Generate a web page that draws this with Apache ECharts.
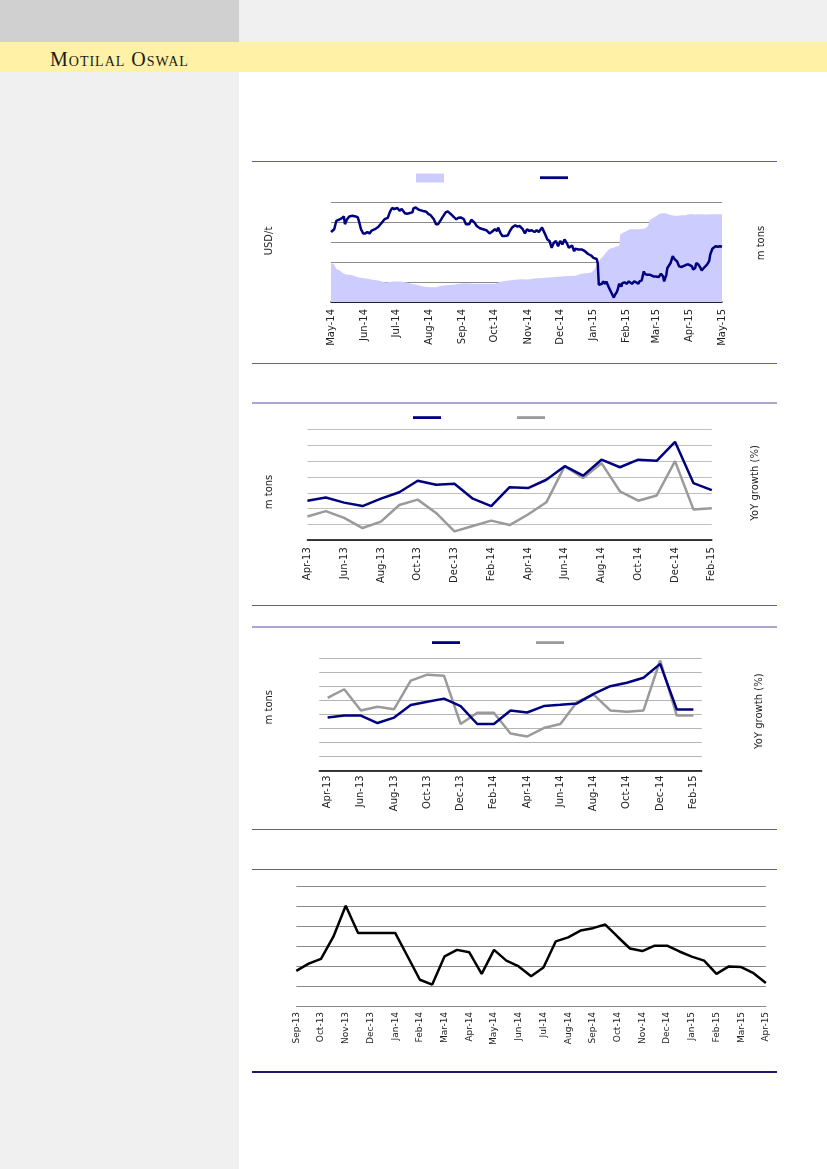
<!DOCTYPE html>
<html><head><meta charset="utf-8">
<script src="https://cdn.jsdelivr.net/npm/echarts@6.0.0/dist/echarts.min.js"></script>
<style>
html,body{margin:0;padding:0;background:#fff;}
#page{position:relative;width:827px;height:1169px;background:#fff;overflow:hidden;}
.blk{position:absolute;}
.rule{position:absolute;left:252px;width:525px;height:1px;}
</style></head><body>
<div id="page">
<div class="blk" style="left:0;top:0;width:239px;height:42px;background:#d0d0d0"></div>
<div class="blk" style="left:239px;top:0;width:588px;height:42px;background:#f0f0f0"></div>
<div class="blk" style="left:0;top:42px;width:827px;height:30px;background:#fff1a6"></div>
<div class="blk" style="left:0;top:72px;width:239px;height:1097px;background:#f0f0f0"></div>
<div class="blk" style="left:50px;top:49px;font-family:'Liberation Serif','DejaVu Serif',serif;font-variant:small-caps;font-size:20px;line-height:20px;letter-spacing:1px;color:#1a1a1a;white-space:nowrap">Motilal Oswal</div>
<div class="rule" style="top:161px;background:#6457ad"></div>
<div class="rule" style="top:363px;background:#6457ad"></div>
<div class="rule" style="top:402px;height:2px;background:#aaa3d6"></div>
<div class="rule" style="top:605px;background:#6457ad"></div>
<div class="rule" style="top:626px;height:2px;background:#aaa3d6"></div>
<div class="rule" style="top:829px;background:#6457ad"></div>
<div class="rule" style="top:869px;background:#6457ad"></div>
<div class="rule" style="top:1071px;height:2px;background:#1f1a70"></div>
<div id="chart" style="position:absolute;left:0;top:0;width:827px;height:1169px"></div>
</div>
<script>
// ---------- Chart 1: daily price (USD/t) vs stocks (m tons), May-14 to May-15 ----------
const c1Months = ['May-14','Jun-14','Jul-14','Aug-14','Sep-14','Oct-14','Nov-14','Dec-14','Jan-15','Feb-15','Mar-15','Apr-15','May-15'];
// days since 1-May-14
const c1PriceDay = [0,3,5,7,8,10,12,13,15,17,20,23,25,26,28,30,32,34,36,38,41,44,47,50,53,55,57,59,62,64,66,69,71,73,76,77,79,82,84,86,89,91,93,96,98,100,102,104,107,109,112,115,117,119,121,
124,126,129,131,134,136,139,142,145,148,150,153,155,156,158,160,162,165,167,169,172,174,176,179,181,183,185,187,190,192,194,197,198,200,202,204,206,208,210,212,214,216,218,220,222,225,227,228,231,234,237,238,240,
241,243,245,246,248,249,250,251,253,254,256,257,259,260,262,264,265,267,268,269,271,272,274,276,278,279,281,283,285,287,288,290,292,293,295,296,298,301,303,306,308,310,311,313,314,317,319,321,323,325,327,330,332,334,337,338,340,341,343,345,346,348,349,351,353,354,356,359,361,363,365];
const c1Price = [350,364,406,411,421,418,428,389,414,428,431,428,423,406,364,343,343,350,342,357,364,375,394,414,421,451,470,465,470,456,465,444,441,444,448,468,473,461,458,455,451,439,434,414,389,389,406,423,448,453,439,423,414,421,423,
414,389,389,411,397,380,369,364,359,343,350,364,355,372,347,330,330,333,355,372,384,377,380,364,343,364,355,359,350,359,350,372,367,338,313,305,271,296,305,279,305,288,313,296,271,283,254,266,263,263,254,250,240,
232,232,221,212,215,195,86,86,91,103,91,103,77,69,44,22,35,52,69,91,77,94,98,91,103,103,91,103,98,91,103,108,153,141,136,145,136,128,128,125,141,128,103,136,170,195,229,212,204,178,175,182,187,187,178,162,170,195,187,170,158,170,178,187,204,237,266,279,276,279,276];
const c1StockDay = [0,3,5,8,11,14,19,20,26,33,39,45,51,58,64,70,75,79,86,92,98,103,107,114,120,125,134,144,153,159,166,172,178,184,190,197,203,209,215,222,228,234,240,243,246,249,251,254,257,260,264,267,269,270,273,276,279,284,288,293,296,298,299,303,306,309,312,315,318,321,324,327,331,334,337,340,343,349,355,365];
const c1Stock = [3.9,3.74,3.3,3.16,2.9,2.76,2.7,2.56,2.46,2.36,2.22,2.12,1.96,2.06,2.06,1.98,1.82,1.76,1.54,1.48,1.48,1.62,1.68,1.72,1.82,1.88,1.82,1.82,1.82,2.06,2.16,2.22,2.28,2.26,2.36,2.4,2.46,2.5,2.56,2.6,2.62,2.82,2.9,2.96,3.24,3.9,4.24,4.58,4.98,5.32,5.42,5.58,5.58,6.76,6.94,7.1,7.28,7.28,7.28,7.34,7.6,8.22,8.36,8.56,8.78,8.88,8.88,8.78,8.68,8.62,8.62,8.68,8.68,8.78,8.78,8.76,8.78,8.76,8.78,8.78];

// ---------- Chart 2 ----------
const c2Cats = ['Apr-13','May-13','Jun-13','Jul-13','Aug-13','Sep-13','Oct-13','Nov-13','Dec-13','Jan-14','Feb-14','Mar-14','Apr-14','May-14','Jun-14','Jul-14','Aug-14','Sep-14','Oct-14','Nov-14','Dec-14','Jan-15','Feb-15'];
const c2Vol = [25.0,27.0,23.8,21.6,26.3,30.4,37.7,35.1,35.8,26.3,21.6,33.6,33.0,38.3,46.9,40.9,51.0,46.2,51.0,50.3,62.3,36.2,31.7];
const c2Yoy = [-5.0,-1.6,-5.9,-12.3,-8.2,2.3,5.7,-2.7,-14.4,-11.0,-7.6,-10.4,-3.7,4.0,26.9,19.4,28.8,11.0,5.0,8.3,30.1,-0.5,0.3];

// ---------- Chart 3 ----------
const c3Cats = ['Apr-13','May-13','Jun-13','Jul-13','Aug-13','Sep-13','Oct-13','Nov-13','Dec-13','Jan-14','Feb-14','Mar-14','Apr-14','May-14','Jun-14','Jul-14','Aug-14','Sep-14','Oct-14','Nov-14','Dec-14','Jan-15','Feb-15'];
const c3Vol = [37.6,39.0,39.0,33.7,37.6,46.5,48.9,51.1,45.8,33.0,33.0,42.7,41.2,45.8,46.7,47.7,54.5,60.0,62.4,66.0,75.9,43.4,43.4];
const c3Yoy = [31.6,37.8,22.7,25.3,23.6,43.9,48.2,47.5,13.0,21.0,21.0,6.3,4.1,10.1,13.0,28.7,34.0,22.7,21.7,22.7,58.3,19.0,19.0];

// ---------- Chart 4: fortnightly ----------
const c4Cats = ['01-Sep-13','15-Sep-13','01-Oct-13','15-Oct-13','01-Nov-13','15-Nov-13','01-Dec-13','15-Dec-13','01-Jan-14','15-Jan-14','01-Feb-14','15-Feb-14','01-Mar-14','15-Mar-14','01-Apr-14','15-Apr-14','01-May-14','15-May-14','01-Jun-14','15-Jun-14','01-Jul-14','15-Jul-14','01-Aug-14','15-Aug-14','01-Sep-14','15-Sep-14','01-Oct-14','15-Oct-14','01-Nov-14','15-Nov-14','01-Dec-14','15-Dec-14','01-Jan-15','15-Jan-15','01-Feb-15','15-Feb-15','01-Mar-15','15-Mar-15','01-Apr-15'];
const c4Vals = [17.6,21.2,23.6,34.7,50.2,36.6,36.6,36.6,36.6,24.9,13.1,10.7,24.9,28.1,26.9,16.1,28.1,22.7,19.8,14.9,19.3,32.4,34.4,37.8,39.0,40.8,34.7,28.8,27.5,30.2,30.2,27.3,24.7,22.7,16.1,19.8,19.5,16.4,11.5];

// ---------- build ----------
const FONT = 'DejaVu Sans';
const MON = {Jan:0,Feb:1,Mar:2,Apr:3,May:4,Jun:5,Jul:6,Aug:7,Sep:8,Oct:9,Nov:10,Dec:11};
const base = Date.UTC(2014,4,1);
const c1Offsets = c1Months.map(s => (Date.UTC(2000 + +s.slice(4), MON[s.slice(0,3)], 1) - base) / 864e5);
const c1LabelOf = {}; c1Offsets.forEach((o,i) => c1LabelOf[o] = c1Months[i]);
const zip = (a,b) => a.map((v,i) => [v, b[i]]);

function nameStyle(up, size) {
  const p = up >= 0 ? [0,0,0,2*up] : [0,-2*up,0,0];
  return {fontFamily: FONT, fontSize: size || 10, color: '#222', padding: p};
}
const xl = (size, margin) => ({rotate: 90, interval: 1, fontFamily: FONT, fontSize: size, color: '#222', margin: margin});
const hidden = {show: false};
function lg(name, left, top, h) {
  return {left: left, top: top, padding: 0, itemWidth: 28, itemHeight: h, formatter: () => '',
          selectedMode: false, data: [{name: name, icon: 'rect'}]};
}

const chart = echarts.init(document.getElementById('chart'), null, {renderer: 'canvas'});
const navy = '#000080', gray = '#9a9a9a';

const option = {
  animation: false,
  grid: [
    {left: 331, top: 202, width: 391, height: 100},
    {left: 307.4, top: 429.7, width: 404.4, height: 110.5},
    {left: 319.3, top: 658.1, width: 382.4, height: 112.2},
    {left: 296.3, top: 886.3, width: 469.6, height: 119.6}
  ],
  legend: [
    lg('Stocks', 416, 173.5, 9),
    lg('Price', 540, 176.3, 2.8),
    lg('Vol2', 413, 416.2, 2.8),
    lg('Yoy2', 517, 416.2, 2.8),
    lg('Vol3', 432, 641.2, 2.8),
    lg('Yoy3', 536, 641.2, 2.8)
  ],
  xAxis: [
    {type: 'value', gridIndex: 0, min: 0, max: 365,
     axisLine: {show: true, onZero: false, lineStyle: {color: '#000', width: 1.5}},
     axisTick: hidden, splitLine: hidden,
     axisLabel: {rotate: 90, fontFamily: FONT, fontSize: 10, color: '#222', margin: 7,
                 customValues: c1Offsets, formatter: v => c1LabelOf[v] || ''}},
    {type: 'category', gridIndex: 1, data: c2Cats, boundaryGap: false,
     axisLine: {lineStyle: {color: '#000', width: 1.5}}, axisTick: hidden, axisLabel: xl(10, 7)},
    {type: 'category', gridIndex: 2, data: c3Cats, boundaryGap: true,
     axisLine: {lineStyle: {color: '#000', width: 1.5}}, axisTick: hidden, axisLabel: xl(10, 5)},
    {type: 'category', gridIndex: 3, data: c4Cats, boundaryGap: false,
     axisLine: {lineStyle: {color: '#8a8a8a', width: 1}}, axisTick: hidden,
     axisLabel: Object.assign(xl(9, 6), {formatter: v => v.slice(3)})}
  ],
  yAxis: [
    {type: 'value', gridIndex: 0, min: 0, max: 500, interval: 100, axisLabel: hidden, axisLine: hidden, axisTick: hidden,
     splitLine: {lineStyle: {color: '#8c8c8c', width: 1}},
     name: 'USD/t', nameLocation: 'middle', nameRotate: 90, nameGap: 57, nameTextStyle: nameStyle(11)},
    {type: 'value', gridIndex: 0, position: 'right', min: 0, max: 10, interval: 2, axisLabel: hidden, axisLine: hidden, axisTick: hidden, splitLine: hidden,
     name: 'm tons', nameLocation: 'middle', nameRotate: 90, nameGap: 34, nameTextStyle: nameStyle(9)},
    {type: 'value', gridIndex: 1, min: 0, max: 70, interval: 10, axisLabel: hidden, axisLine: hidden, axisTick: hidden,
     splitLine: {lineStyle: {color: '#c0c0c0', width: 1}},
     name: 'm tons', nameLocation: 'middle', nameRotate: 90, nameGap: 33, nameTextStyle: nameStyle(-7)},
    {type: 'value', gridIndex: 1, position: 'right', min: -20, max: 50, interval: 10, axisLabel: hidden, axisLine: hidden, axisTick: hidden, splitLine: hidden,
     name: 'YoY growth (%)', nameLocation: 'middle', nameRotate: 90, nameGap: 39, nameTextStyle: nameStyle(2)},
    {type: 'value', gridIndex: 2, min: 0, max: 80, interval: 10, axisLabel: hidden, axisLine: hidden, axisTick: hidden,
     splitLine: {lineStyle: {color: '#b4b4b4', width: 1}},
     name: 'm tons', nameLocation: 'middle', nameRotate: 90, nameGap: 45, nameTextStyle: nameStyle(7)},
    {type: 'value', gridIndex: 2, position: 'right', min: -20, max: 60, interval: 10, axisLabel: hidden, axisLine: hidden, axisTick: hidden, splitLine: hidden,
     name: 'YoY growth (%)', nameLocation: 'middle', nameRotate: 90, nameGap: 53, nameTextStyle: nameStyle(3)},
    {type: 'value', gridIndex: 3, min: 0, max: 60, interval: 10, axisLabel: hidden, axisLine: hidden, axisTick: hidden,
     splitLine: {lineStyle: {color: '#8a8a8a', width: 1}}}
  ],
  series: [
    {name: 'Stocks', type: 'line', xAxisIndex: 0, yAxisIndex: 1, data: zip(c1StockDay, c1Stock), symbol: 'none',
     lineStyle: {width: 0}, itemStyle: {color: '#ccccff'}, areaStyle: {color: '#ccccff', opacity: 1}, z: 1},
    {name: 'Price', type: 'line', xAxisIndex: 0, yAxisIndex: 0, data: zip(c1PriceDay, c1Price), symbol: 'none',
     lineStyle: {width: 2.5, color: navy}, itemStyle: {color: navy}, z: 3},
    {name: 'Vol2', type: 'line', xAxisIndex: 1, yAxisIndex: 2, data: c2Vol, symbol: 'none',
     lineStyle: {width: 2.5, color: navy}, itemStyle: {color: navy}, z: 3},
    {name: 'Yoy2', type: 'line', xAxisIndex: 1, yAxisIndex: 3, data: c2Yoy, symbol: 'none',
     lineStyle: {width: 2.5, color: gray}, itemStyle: {color: gray}, z: 2},
    {name: 'Vol3', type: 'line', xAxisIndex: 2, yAxisIndex: 4, data: c3Vol, symbol: 'none',
     lineStyle: {width: 2.5, color: navy}, itemStyle: {color: navy}, z: 3},
    {name: 'Yoy3', type: 'line', xAxisIndex: 2, yAxisIndex: 5, data: c3Yoy, symbol: 'none',
     lineStyle: {width: 2.5, color: gray}, itemStyle: {color: gray}, z: 2},
    {name: 'Price4', type: 'line', xAxisIndex: 3, yAxisIndex: 6, data: c4Vals, symbol: 'none',
     lineStyle: {width: 2.5, color: '#000'}, itemStyle: {color: '#000'}, z: 3}
  ]
};
chart.setOption(option);
</script>
</body></html>
